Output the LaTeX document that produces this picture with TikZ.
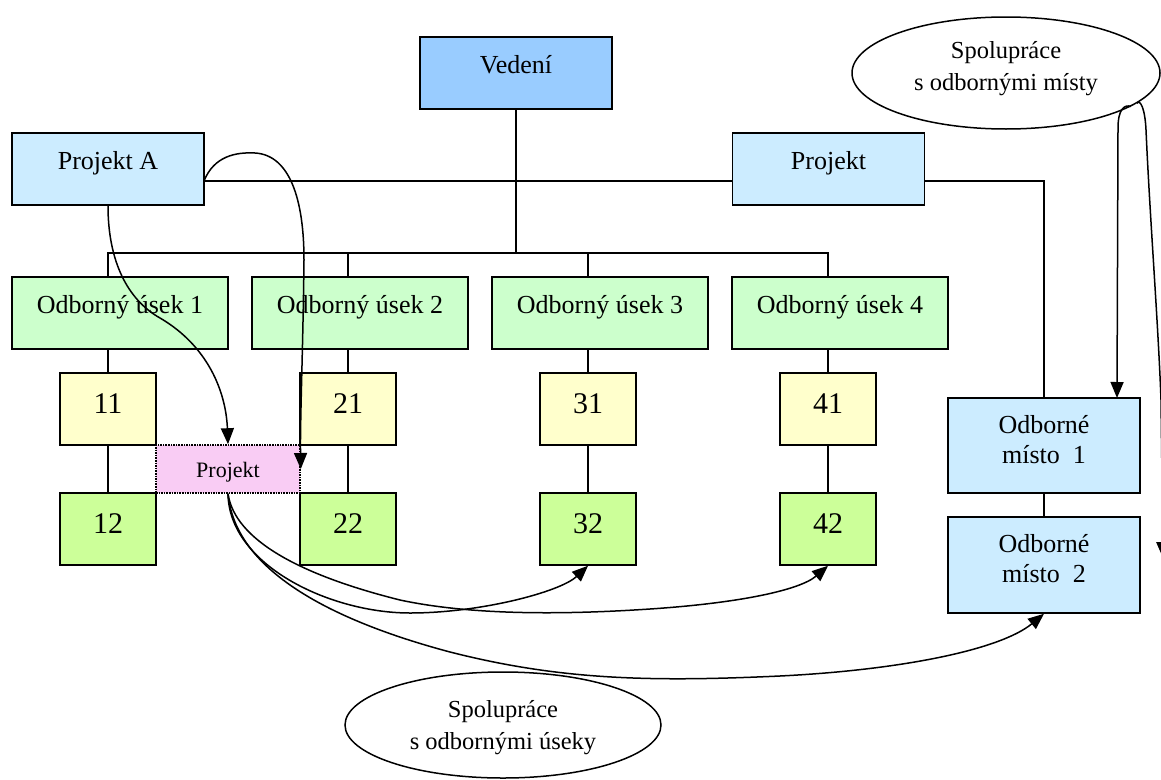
\documentclass[tikz,border=0pt]{standalone}
\usepackage{fontspec}
\setmainfont{Liberation Serif}
\usetikzlibrary{arrows.meta,shapes.geometric}
\definecolor{headfill}{HTML}{99CCFF}
\definecolor{projfill}{HTML}{CCECFF}
\definecolor{sectfill}{HTML}{CCFFCC}
\definecolor{upperfill}{HTML}{FFFFCC}
\definecolor{lowerfill}{HTML}{CCFF99}
\definecolor{pinkfill}{HTML}{F9CCF4}
\tikzset{
  box/.style={draw=black, line width=1.5pt, inner sep=0pt,
    minimum width=192pt, minimum height=72pt,
    font=\fontsize{26}{30}\selectfont, text height=18pt, text depth=18pt},
  sect/.style={box, fill=sectfill, minimum width=216pt},
  num/.style={box, minimum width=96pt, font=\fontsize{30}{34}\selectfont,
    text height=25pt, text depth=16pt},
  place/.style={box, fill=projfill, align=center, text height=48pt, text depth=13pt},
  bubble/.style={draw=black, ellipse, line width=1.5pt, inner sep=0pt, fill=white,
    align=center, font=\fontsize{24.5}{32}\selectfont},
  tree/.style={line width=1.5pt},
  conn/.style={line width=1.5pt, -{Triangle[length=16pt,width=13pt]}}
}
\begin{document}
\begin{tikzpicture}[x=1pt,y=-1pt]
\fill[white] (0,0) rectangle (1161,779);
\clip (0,0) rectangle (1161,779);

% management and projects
\node[box, fill=headfill] (ved) at (516,73) {Vedení};
\node[box, fill=projfill] (pa) at (108,169) {Projekt A};
\node[box, fill=projfill] (pr) at (828.5,169) {Projekt};

% departments
\node[sect] (s1) at (120,313) {Odborný úsek 1};
\node[sect] (s2) at (360,313) {Odborný úsek 2};
\node[sect] (s3) at (600,313) {Odborný úsek 3};
\node[sect] (s4) at (840,313) {Odborný úsek 4};

% units
\node[num, fill=upperfill] (n11) at (108,409) {11};
\node[num, fill=upperfill] (n21) at (348,409) {21};
\node[num, fill=upperfill] (n31) at (588,409) {31};
\node[num, fill=upperfill] (n41) at (828,409) {41};
\node[num, fill=lowerfill] (n12) at (108,529) {12};
\node[num, fill=lowerfill] (n22) at (348,529) {22};
\node[num, fill=lowerfill] (n32) at (588,529) {32};
\node[num, fill=lowerfill] (n42) at (828,529) {42};

% external places
\node[place, minimum height=95pt] (m1) at (1044,445.5) {Odborné\\místo~ 1};
\node[place, minimum height=96pt] (m2) at (1044,565) {Odborné\\místo~ 2};

% tree lines
\coordinate (bus) at (516,253);
\coordinate (pajoin) at (204,181);
\coordinate (prjoin) at (924,181);
\coordinate (mcorner) at (1044,181);
\draw[tree] (ved.south) -- (bus);
\draw[tree] (pajoin) -- (pr.west |- pajoin);
\draw[tree] (prjoin) -- (mcorner) -- (m1.north);
\draw[tree] (s1.north -| n11) -- (bus -| n11) -- (bus -| n41) -- (s4.north -| n41);
\draw[tree] (bus -| n21) -- (s2.north -| n21);
\draw[tree] (bus -| n31) -- (s3.north -| n31);
\foreach \a/\b/\c in {n11/n12/s1, n21/n22/s2, n31/n32/s3, n41/n42/s4}{
  \draw[tree] (\c.south -| \a) -- (\a.north);
  \draw[tree] (\a.south) -- (\b.north);
}
\draw[tree] (m1.south) -- (m2.north);

% shared project
\node[draw=black, densely dotted, line width=1.6pt, fill=pinkfill, inner sep=0pt,
  minimum width=144pt, minimum height=48pt, font=\fontsize{22}{26}\selectfont,
  text height=20pt, text depth=3pt] (pj) at (228,469) {Projekt};

% cooperation bubbles
\node[bubble, minimum width=308pt, minimum height=112pt,
  text height=50pt, text depth=16pt] (sm) at (1006,73) {Spolupráce\\s odbornými místy};
\node[bubble, minimum width=316pt, minimum height=106pt,
  text height=50pt, text depth=2pt] (su) at (503,725) {Spolupráce\\s odbornými úseky};

% project links
\draw[conn] (pa.south) .. controls (108,262) and (128,300) .. (160,318)
  .. controls (208,346) and (226,392) .. (pj.north);
\draw[conn] (pajoin) .. controls (214,156) and (236,152) .. (255,153)
  .. controls (290,155) and (304,200) .. (304,260)
  .. controls (303,350) and (300,420) .. (pj.east);

% cooperation links from the shared project
\draw[conn] (pj.south) .. controls (229,565) and (330,613) .. (410,613)
  .. controls (480,613) and (560,592) .. (n32.south);
\draw[conn] (pj.south) .. controls (235,540) and (300,575) .. (400,600)
  .. controls (470,615) and (560,615) .. (650,609)
  .. controls (740,603) and (800,590) .. (n42.south);
\draw[conn] (pj.south) .. controls (235,570) and (330,620) .. (450,652)
  .. controls (560,680) and (650,682) .. (780,676)
  .. controls (900,670) and (1000,650) .. (m2.south);

% cooperation links with the external places
\coordinate (m1in) at (1117,398);
\coordinate (edgeend) at (1163,558);
\draw[conn] (sm.-15) .. controls (1124,104) and (1118,110) .. (1118,128) -- (m1in);
\draw[conn] (sm.-13) .. controls (1140,99) and (1145,108) .. (1146,130)
  .. controls (1150,220) and (1158,320) .. (1161,400) -- (edgeend);
\end{tikzpicture}
\end{document}
